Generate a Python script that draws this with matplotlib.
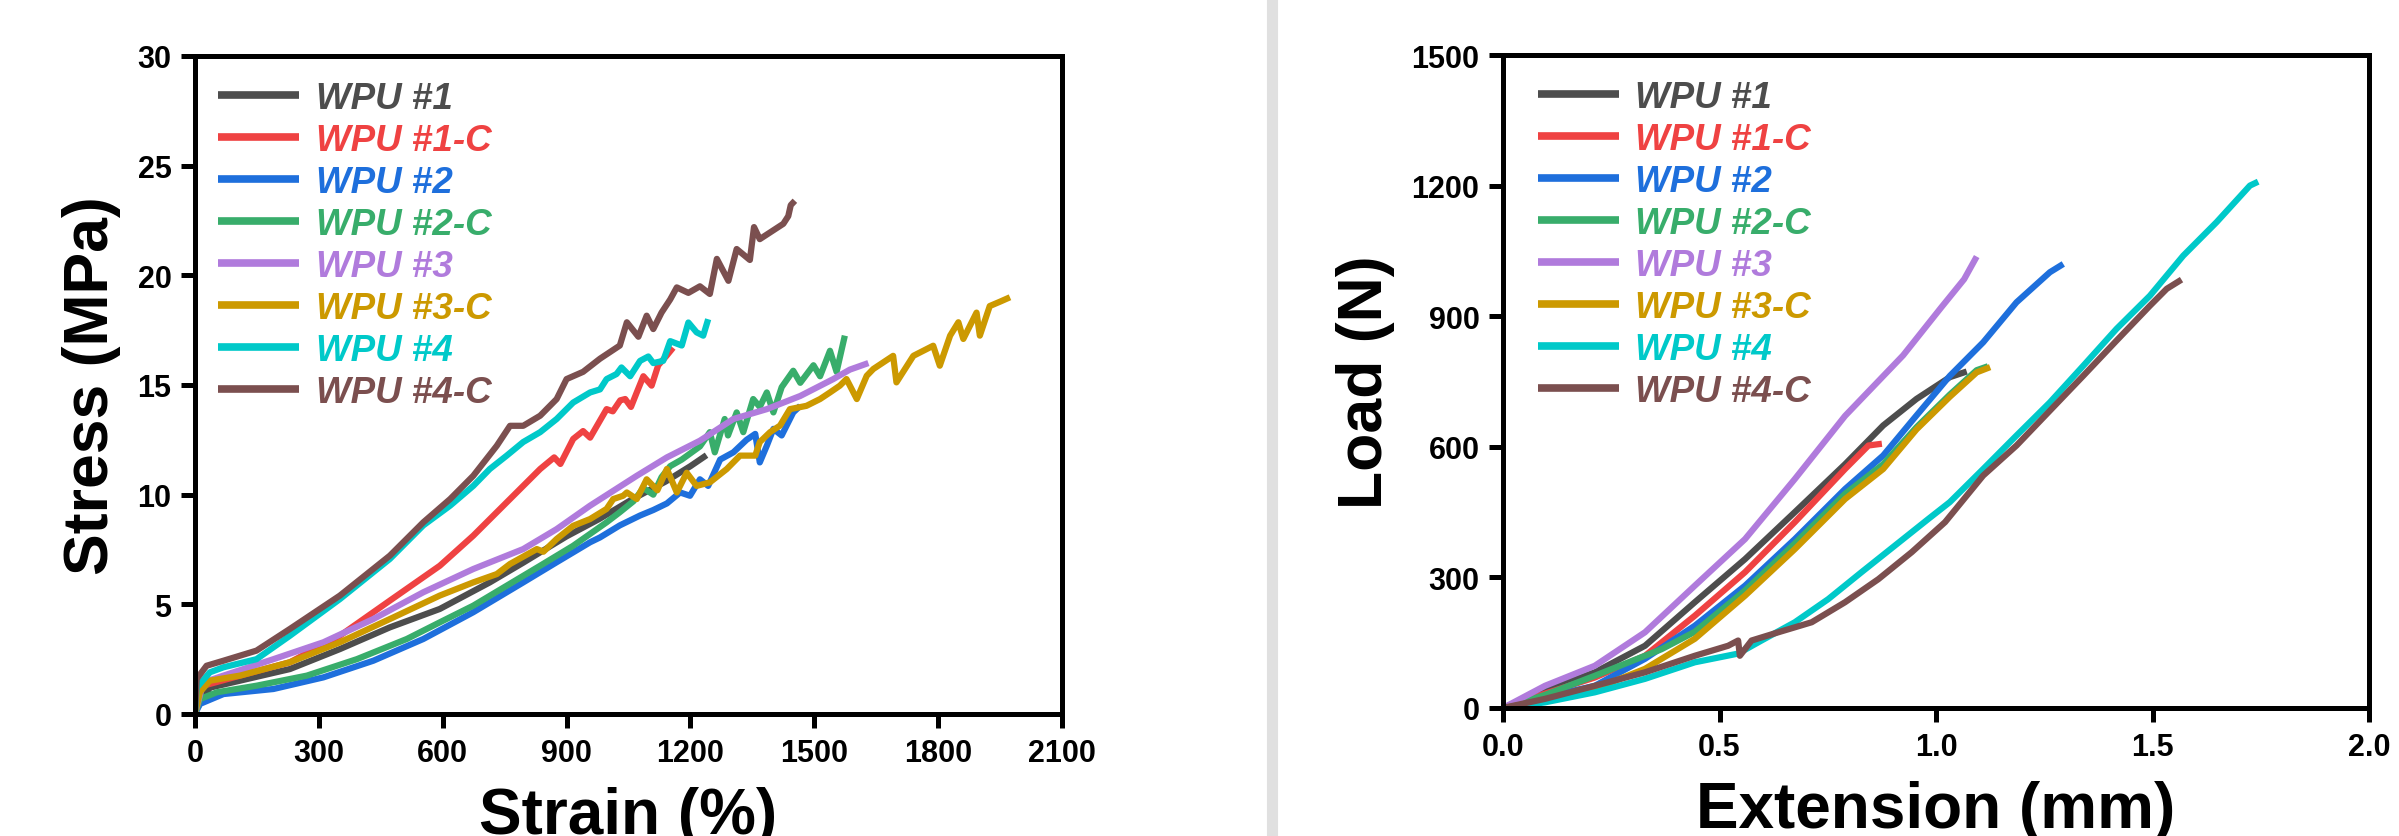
import matplotlib
matplotlib.use('Agg')
import matplotlib.pyplot as plt
from matplotlib.lines import Line2D

plt.rcParams['font.family'] = ['Liberation Sans', 'DejaVu Sans']
plt.rcParams['font.weight'] = 'bold'

labels = ['WPU #1', 'WPU #1-C', 'WPU #2', 'WPU #2-C', 'WPU #3', 'WPU #3-C', 'WPU #4', 'WPU #4-C']
colors = ['#4d4d4d', '#ef4242', '#1e6fdc', '#38ad6b', '#b07bdc', '#cc9900', '#00c9c9', '#7b4f4f']

# stress-strain (left)
s1_x = [0, 4, 36, 109, 230, 351, 472, 593, 714, 795, 836, 900, 980, 1060, 1140, 1200, 1239]
s1_y = [0, 0.23, 1.2, 1.52, 2.05, 2.96, 3.95, 4.79, 6.0, 6.9, 7.37, 8.1, 8.9, 9.8, 10.6, 11.3, 11.8]
s1c_x = [0, 4, 20, 109, 230, 351, 472, 593, 674, 755, 836, 870, 885, 916, 940, 957, 997, 1012, 1030, 1042, 1056, 1070, 1086, 1106, 1122, 1142, 1158]
s1c_y = [0, 0.7, 1.29, 1.75, 2.36, 3.57, 5.17, 6.76, 8.13, 9.65, 11.17, 11.7, 11.4, 12.54, 12.9, 12.6, 13.9, 13.8, 14.3, 14.36, 14.0, 14.66, 15.4, 14.97, 15.9, 16.33, 16.7]
s2_x = [0, 12, 69, 190, 311, 432, 553, 674, 795, 876, 957, 981, 1029, 1078, 1110, 1143, 1175, 1199, 1223, 1243, 1272, 1304, 1336, 1357, 1368, 1385, 1401, 1421, 1449, 1466]
s2_y = [0, 0.46, 0.91, 1.14, 1.67, 2.43, 3.42, 4.64, 6.0, 6.92, 7.83, 8.05, 8.6, 9.05, 9.3, 9.6, 10.1, 9.95, 10.7, 10.4, 11.6, 11.93, 12.5, 12.77, 11.47, 12.23, 13.0, 12.7, 13.75, 14.05]
s2c_x = [0, 12, 53, 149, 271, 392, 513, 593, 674, 755, 836, 916, 997, 1029, 1062, 1086, 1110, 1130, 1151, 1179, 1223, 1247, 1259, 1283, 1291, 1312, 1328, 1352, 1368, 1385, 1401, 1421, 1449, 1466, 1498, 1514, 1538, 1554, 1574]
s2c_y = [0, 0.68, 0.99, 1.29, 1.75, 2.5, 3.42, 4.18, 4.94, 5.85, 6.76, 7.67, 8.74, 9.2, 9.7, 10.3, 10.0, 10.8, 11.3, 11.6, 12.2, 12.85, 11.93, 13.45, 12.7, 13.75, 12.85, 14.36, 14.0, 14.66, 13.75, 14.9, 15.65, 15.1, 15.9, 15.4, 16.56, 15.6, 17.25]
s3_x = [0, 20, 69, 190, 311, 432, 553, 674, 795, 876, 957, 1070, 1143, 1223, 1304, 1385, 1466, 1546, 1586, 1631]
s3_y = [0, 1.44, 1.75, 2.5, 3.27, 4.33, 5.55, 6.61, 7.52, 8.43, 9.5, 10.86, 11.7, 12.46, 13.45, 13.9, 14.5, 15.27, 15.7, 16.0]
s3c_x = [0, 12, 36, 109, 230, 351, 472, 593, 674, 731, 763, 828, 844, 876, 916, 957, 997, 1013, 1037, 1046, 1070, 1094, 1120, 1143, 1167, 1191, 1215, 1247, 1288, 1320, 1357, 1368, 1393, 1417, 1441, 1481, 1514, 1538, 1562, 1578, 1603, 1627, 1643, 1691, 1699, 1740, 1788, 1804, 1829, 1849, 1861, 1893, 1901, 1925, 1950, 1974]
s3c_y = [0, 1.0, 1.52, 1.75, 2.36, 3.27, 4.33, 5.4, 6.0, 6.38, 6.84, 7.52, 7.4, 7.98, 8.58, 8.89, 9.35, 9.8, 9.95, 10.1, 9.8, 10.7, 10.2, 11.17, 10.1, 11.0, 10.4, 10.56, 11.17, 11.78, 11.78, 12.4, 12.85, 13.15, 13.9, 14.05, 14.36, 14.66, 14.97, 15.27, 14.36, 15.42, 15.73, 16.33, 15.12, 16.33, 16.79, 15.88, 17.25, 17.86, 17.1, 18.3, 17.25, 18.6, 18.8, 19.0]
s4_x = [0, 4, 36, 69, 149, 230, 351, 472, 553, 618, 674, 714, 755, 795, 836, 876, 916, 957, 981, 997, 1021, 1033, 1054, 1078, 1098, 1110, 1134, 1151, 1179, 1195, 1215, 1231, 1243]
s4_y = [0, 1.2, 1.9, 2.13, 2.5, 3.57, 5.24, 7.07, 8.6, 9.5, 10.4, 11.17, 11.78, 12.4, 12.85, 13.45, 14.2, 14.66, 14.8, 15.27, 15.5, 15.8, 15.4, 16.1, 16.3, 16.0, 16.1, 17.0, 16.8, 17.85, 17.4, 17.25, 18.0]
s4c_x = [0, 4, 28, 69, 149, 230, 351, 472, 553, 618, 674, 731, 763, 795, 836, 876, 900, 940, 981, 1029, 1046, 1074, 1094, 1110, 1130, 1151, 1167, 1195, 1223, 1247, 1264, 1292, 1312, 1344, 1354, 1368, 1425, 1437, 1443, 1453]
s4c_y = [0, 1.6, 2.2, 2.43, 2.89, 3.88, 5.4, 7.22, 8.74, 9.8, 10.86, 12.23, 13.14, 13.14, 13.6, 14.36, 15.27, 15.6, 16.2, 16.8, 17.86, 17.2, 18.16, 17.55, 18.3, 18.9, 19.45, 19.2, 19.5, 19.15, 20.75, 19.75, 21.2, 20.7, 22.2, 21.65, 22.35, 22.7, 23.2, 23.4]

# load-extension (right)
l1_x = [0, 0.097, 0.212, 0.328, 0.443, 0.559, 0.674, 0.79, 0.878, 0.955, 1.032, 1.071]
l1_y = [0, 40, 82, 143, 243, 342, 450, 560, 649, 710, 760, 773]
l1c_x = [0, 0.097, 0.212, 0.328, 0.443, 0.559, 0.674, 0.79, 0.844, 0.875]
l1c_y = [0, 33, 70, 120, 212, 312, 427, 549, 603, 607]
l2_x = [0, 0.097, 0.212, 0.328, 0.443, 0.559, 0.674, 0.79, 0.878, 0.955, 1.032, 1.109, 1.186, 1.263, 1.294]
l2_y = [0, 25, 51, 113, 189, 281, 388, 503, 580, 672, 763, 840, 932, 1001, 1020]
l2c_x = [0, 0.097, 0.212, 0.328, 0.366, 0.443, 0.559, 0.674, 0.79, 0.878, 0.955, 1.032, 1.094, 1.12]
l2c_y = [0, 30, 74, 120, 135, 175, 270, 378, 492, 560, 645, 720, 776, 785]
l3_x = [0, 0.097, 0.212, 0.328, 0.443, 0.559, 0.674, 0.79, 0.924, 1.012, 1.065, 1.094]
l3_y = [0, 51, 97, 174, 281, 388, 526, 671, 810, 920, 985, 1037]
l3c_x = [0, 0.097, 0.212, 0.328, 0.443, 0.559, 0.674, 0.79, 0.878, 0.955, 1.032, 1.094, 1.125]
l3c_y = [0, 17, 44, 90, 159, 258, 365, 480, 549, 640, 715, 771, 783]
l4_x = [0, 0.097, 0.212, 0.328, 0.443, 0.543, 0.597, 0.674, 0.751, 0.828, 0.905, 0.982, 1.032, 1.109, 1.186, 1.263, 1.34, 1.417, 1.494, 1.571, 1.648, 1.725, 1.744]
l4_y = [0, 13, 36, 67, 105, 125, 155, 197, 250, 312, 373, 434, 473, 549, 626, 702, 786, 871, 947, 1039, 1116, 1200, 1209]
l4c_x = [0, 0.097, 0.212, 0.328, 0.443, 0.52, 0.543, 0.547, 0.574, 0.636, 0.713, 0.79, 0.867, 0.944, 1.021, 1.109, 1.186, 1.263, 1.34, 1.417, 1.494, 1.533, 1.567]
l4c_y = [0, 21, 51, 82, 120, 143, 155, 120, 155, 174, 197, 243, 296, 358, 427, 534, 603, 683, 763, 844, 924, 963, 984]

left_data = [(s1_x, s1_y), (s1c_x, s1c_y), (s2_x, s2_y), (s2c_x, s2c_y),
             (s3_x, s3_y), (s3c_x, s3c_y), (s4_x, s4_y), (s4c_x, s4c_y)]
right_data = [(l1_x, l1_y), (l1c_x, l1c_y), (l2_x, l2_y), (l2c_x, l2c_y),
              (l3_x, l3_y), (l3c_x, l3c_y), (l4_x, l4_y), (l4c_x, l4c_y)]

fig = plt.figure(figsize=(23.99, 8.37), dpi=100)
ax1 = fig.add_axes([195/2399, 122/837, 867/2399, 658/837])
ax2 = fig.add_axes([1503/2399, 128/837, 866/2399, 653/837])

# grey divider
fig.add_artist(Line2D([1271.5/2399, 1271.5/2399], [0, 1], transform=fig.transFigure,
                      color='#e0e0e0', lw=8))


def style(ax, data, xlim, ylim, xticks, yticks, xlabel, ylabel, xfmt, lx):
    for (x, y), c, lab in zip(data, colors, labels):
        ax.plot(x, y, color=c, lw=4.5, label=lab, solid_capstyle='butt')
    ax.set_xlim(*xlim)
    ax.set_ylim(*ylim)
    ax.set_xticks(xticks)
    ax.set_yticks(yticks)
    ax.set_xticklabels([xfmt(v) for v in xticks])
    for s in ax.spines.values():
        s.set_linewidth(3.6)
    ax.tick_params(direction='out', length=10, width=3.6, labelsize=22, pad=7)
    ax.set_xlabel(xlabel, fontsize=46, fontweight='bold', labelpad=13)
    ax.set_ylabel(ylabel, fontsize=45, fontweight='bold', labelpad=12)
    leg = ax.legend(loc='upper left', bbox_to_anchor=(lx, 0.962), frameon=False,
                    borderpad=0, borderaxespad=0, handlelength=2.2, handletextpad=0.45,
                    labelspacing=0.19, prop={'size': 26.5, 'weight': 'bold', 'style': 'italic'})
    for t, ln in zip(leg.get_texts(), leg.get_lines()):
        t.set_color(ln.get_color())
        ln.set_linewidth(5.5)


style(ax1, left_data, (0, 2100), (0, 30), list(range(0, 2101, 300)), list(range(0, 31, 5)),
      'Strain (%)', 'Stress (MPa)', lambda v: str(v), 0.027)
style(ax2, right_data, (0, 2.0), (0, 1500), [0, 0.5, 1.0, 1.5, 2.0], list(range(0, 1501, 300)),
      'Extension (mm)', 'Load (N)', lambda v: '%.1f' % v, 0.04)

fig.savefig('out.png', dpi=100)
